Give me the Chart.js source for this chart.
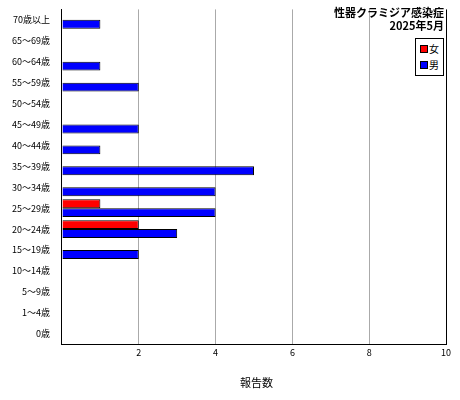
<!DOCTYPE html>
<html><head><meta charset="utf-8">
<script src="https://cdn.jsdelivr.net/npm/chart.js@4"></script>
<style>
body{margin:0;background:#fff;font-family:"Noto Sans CJK JP",sans-serif;}
#w{position:relative;width:460px;height:400px;}
#t{position:absolute;right:16px;top:6px;text-align:right;font-size:11px;font-weight:bold;line-height:13px;color:#000;}
#lg{position:absolute;right:16px;top:38px;border:1px solid #000;background:#fff;font-size:10px;padding:2px 4px;line-height:16px;}
#lg span{display:inline-block;width:6px;height:6px;border:1px solid #000;margin-right:1px;vertical-align:0px;}
#xl{position:absolute;left:240px;top:374px;font-size:11px;}
</style></head><body>
<div id="w"><canvas id="c" width="460" height="400"></canvas>
<div id="t">性器クラミジア感染症<br>2025年5月</div>
<div id="lg"><span style="background:#f00"></span>女<br><span style="background:#00f"></span>男</div>
<div id="xl">報告数</div></div>
<script>
const categories=["70歳以上","65〜69歳","60〜64歳","55〜59歳","50〜54歳","45〜49歳","40〜44歳","35〜39歳","30〜34歳","25〜29歳","20〜24歳","15〜19歳","10〜14歳","5〜9歳","1〜4歳","0歳"];
const female=[0,0,0,0,0,0,0,0,0,1,2,0,0,0,0,0];
const male=[1,0,1,2,0,2,1,5,4,4,3,2,0,0,0,0];
new Chart(document.getElementById('c'),{type:'bar',
data:{labels:categories,datasets:[
{label:'女',data:female,backgroundColor:'#f00',borderColor:'#000',borderWidth:1,barPercentage:1,categoryPercentage:0.85},
{label:'男',data:male,backgroundColor:'#00f',borderColor:'#000',borderWidth:1,barPercentage:1,categoryPercentage:0.85}]},
options:{indexAxis:'y',responsive:false,animation:false,
layout:{padding:{top:3,right:14,bottom:39,left:8}},
plugins:{legend:{display:false},tooltip:{enabled:false}},
scales:{x:{min:0,max:10,ticks:{stepSize:2,color:'#000',font:{size:9,family:'Noto Sans CJK JP'},callback:v=>v==0?'':v},
grid:{color:c=>c.tick.value==0||c.tick.value==10?'#000':'#aaa',drawTicks:false},border:{color:'#000'}},
y:{ticks:{color:'#000',font:{size:9,family:'Noto Sans CJK JP'},padding:4},grid:{display:false},border:{color:'#000'}}}}});
</script></body></html>
